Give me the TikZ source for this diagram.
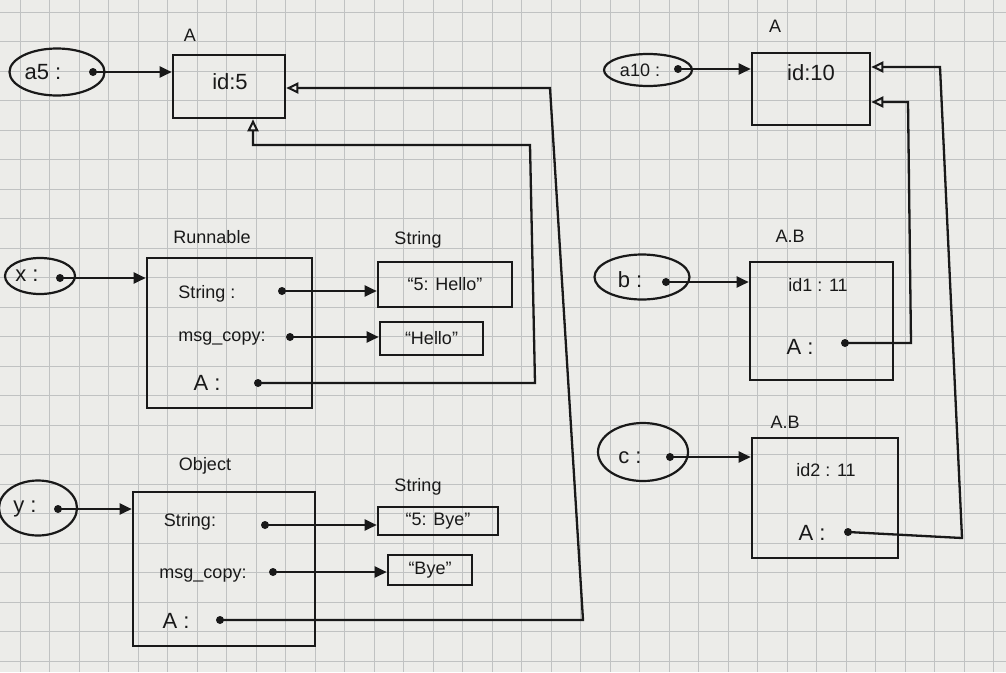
\documentclass[tikz,border=0pt]{standalone}
\usepackage{fontspec}
\setmainfont{Liberation Sans}
\usetikzlibrary{shapes.geometric,arrows.meta}
\definecolor{paper}{RGB}{236,236,233}
\definecolor{gridc}{RGB}{192,194,194}
\definecolor{ink}{RGB}{25,25,25}
\tikzset{
  objbox/.style={draw=ink, line width=2.6pt, rectangle, inner sep=0pt},
  blob/.style={draw=ink, ellipse, line width=2.2pt, inner sep=0pt},
  refdot/.style={circle, fill=ink, inner sep=0pt, minimum size=8pt},
  hand/.style={text=ink, font=\fontsize{22}{24}\selectfont, inner sep=1pt},
  small/.style={text=ink, font=\fontsize{18}{20}\selectfont, inner sep=1pt},
  ref/.style={draw=ink, line width=2.3pt, -{Triangle[length=12pt,width=11pt]}},
  backref/.style={draw=ink, line width=2.3pt, -{Triangle[open,length=12pt,width=11pt,line width=2pt]}},
}
\begin{document}
\begin{tikzpicture}[x=1pt,y=-1pt]
\useasboundingbox (0,0) rectangle (1006,672);
\fill[paper] (0,0) rectangle (1006,672);
\foreach \gx in {0,...,34} \draw[gridc, line width=0.9pt] (20+\gx*29.5,0) -- (20+\gx*29.5,672);
\foreach \gy in {0,...,23} \draw[gridc, line width=0.9pt] (0,12+\gy*29.5) -- (1006,12+\gy*29.5);

% ---------- top-left: A id:5 ----------
\node[blob, minimum width=95pt, minimum height=47pt] (ea5) at (57,72) {};
\node[hand] (ta5) at (43,72) {a5 :};
\node[refdot] (da5) at (93,72) {};
\node[small] (lA1) at (190,35) {A};
\node[objbox, minimum width=112pt, minimum height=63pt] (A1) at (229,86.5) {};
\node[hand] (tA1) at (230,82) {id:5};

% ---------- Runnable ----------
\node[blob, minimum width=70pt, minimum height=36pt] (ex) at (40,276) {};
\node[hand] (tx) at (27,276) {x :};
\node[refdot] (dx) at (60,278) {};
\node[small] (lRun) at (212,237) {Runnable};
\node[objbox, minimum width=165pt, minimum height=150pt] (Run) at (229.5,333) {};
\node[small] (tRs) at (207,294) {String :};
\node[refdot] (dRs) at (282,291) {};
\node[small] (tRm) at (222,339) {msg\_copy:};
\node[refdot] (dRm) at (290,337) {};
\node[hand] (tRa) at (207,383) {A :};
\node[refdot] (dRa) at (258,383) {};

\node[small] (lS1) at (418,240) {String};
\node[objbox, minimum width=134pt, minimum height=45pt] (S1) at (445,284.5) {};
\node[small] (tS1) at (445,284) {“5: Hello”};
\node[objbox, minimum width=103pt, minimum height=33pt] (S2) at (431.5,338.5) {};
\node[small] (tS2) at (431.5,338.5) {“Hello”};

% ---------- Object ----------
\node[blob, minimum width=78pt, minimum height=55pt] (ey) at (38,508) {};
\node[hand] (ty) at (25,509) {y :};
\node[refdot] (dy) at (58,509) {};
\node[small] (lObj) at (205,466) {Object};
\node[objbox, minimum width=182pt, minimum height=154pt] (Obj) at (224,569) {};
\node[small] (tOs) at (190,522) {String:};
\node[refdot] (dOs) at (265,525) {};
\node[small] (tOm) at (203,576) {msg\_copy:};
\node[refdot] (dOm) at (273,572) {};
\node[hand] (tOa) at (176,621) {A :};
\node[refdot] (dOa) at (220,620) {};

\node[small] (lS3) at (418,487) {String};
\node[objbox, minimum width=120pt, minimum height=28pt] (S3) at (438,521) {};
\node[small] (tS3) at (438,521) {“5: Bye”};
\node[objbox, minimum width=84pt, minimum height=30pt] (S4) at (430,570) {};
\node[small] (tS4) at (430,570) {“Bye”};

% ---------- right: A id:10 ----------
\node[blob, minimum width=88pt, minimum height=32pt] (ea10) at (648,70) {};
\node[small] (ta10) at (640,70) {a10 :};
\node[refdot] (da10) at (678,69) {};
\node[small] (lA2) at (775,26) {A};
\node[objbox, minimum width=118pt, minimum height=72pt] (A2) at (811,89) {};
\node[hand] (tA2) at (811,73) {id:10};

% ---------- right: b ----------
\node[blob, minimum width=95pt, minimum height=45pt] (eb) at (642,277) {};
\node[hand] (tb) at (630,280) {b :};
\node[refdot] (db) at (666,282) {};
\node[small] (lB1) at (790,236) {A.B};
\node[objbox, minimum width=143pt, minimum height=118pt] (B1) at (821.5,321) {};
\node[small] (tB1i) at (818,285) {id1 : 11};
\node[hand] (tB1a) at (800,347) {A :};
\node[refdot] (dB1) at (845,343) {};

% ---------- right: c ----------
\node[blob, minimum width=90pt, minimum height=58pt] (ec) at (643,452) {};
\node[hand] (tc) at (630,458) {c :};
\node[refdot] (dc) at (670,457) {};
\node[small] (lB2) at (785,422) {A.B};
\node[objbox, minimum width=146pt, minimum height=120pt] (B2) at (825,498) {};
\node[small] (tB2i) at (826,470) {id2 : 11};
\node[hand] (tB2a) at (812,533) {A :};
\node[refdot] (dB2) at (848,532) {};

% ---------- forward references ----------
\draw[ref] (da5.center) -- (A1.west |- da5);
\draw[ref] (dx.center) -- (Run.west |- dx);
\draw[ref] (dRs.center) -- (S1.west |- dRs);
\draw[ref] (dRm.center) -- (S2.west |- dRm);
\draw[ref] (dy.center) -- (Obj.west |- dy);
\draw[ref] (dOs.center) -- (S3.west |- dOs);
\draw[ref] (dOm.center) -- (S4.west |- dOm);
\draw[ref] (da10.center) -- (A2.west |- da10);
\draw[ref] (db.center) -- (B1.west |- db);
\draw[ref] (dc.center) -- (B2.west |- dc);

% ---------- back references ----------
\coordinate (r1a) at (535,383);
\coordinate (r1b) at (530,145);
\coordinate (r1c) at (253,145);
\draw[backref] (dRa.center) -- (r1a) -- (r1b) -- (r1c) -- (A1.south -| r1c);

\coordinate (o1a) at (583,620);
\coordinate (o1b) at (550,88);
\draw[backref] (dOa.center) -- (o1a) -- (o1b) -- (A1.east |- o1b);

\coordinate (b1a) at (911,343);
\coordinate (b1b) at (908,102);
\draw[backref] (dB1.center) -- (b1a) -- (b1b) -- (A2.east |- b1b);

\coordinate (b2a) at (962,538);
\coordinate (b2b) at (940,67);
\draw[backref] (dB2.center) -- (b2a) -- (b2b) -- (A2.east |- b2b);
\end{tikzpicture}
\end{document}
